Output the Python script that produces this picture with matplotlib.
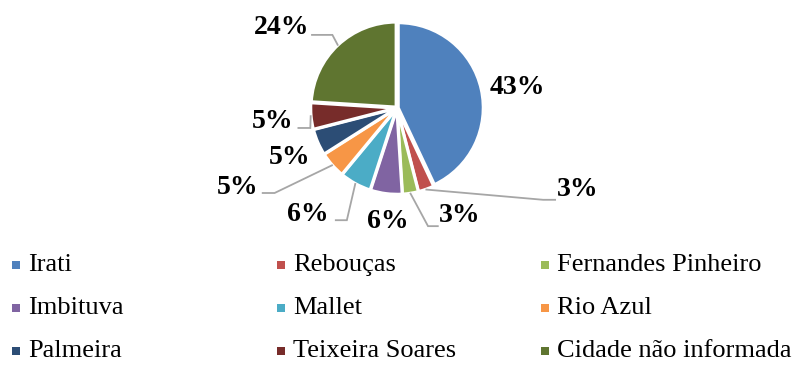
import matplotlib
matplotlib.use("Agg")
import matplotlib.pyplot as plt
from matplotlib.patches import Rectangle
import numpy as np

# Data
cities = ["Irati", "Rebouças", "Fernandes Pinheiro", "Imbituva", "Mallet",
          "Rio Azul", "Palmeira", "Teixeira Soares", "Cidade não informada"]
shares = [43, 3, 3, 6, 6, 5, 5, 5, 24]
colors = ["#4F81BD", "#C0504D", "#9BBB59", "#8064A2", "#4BACC6",
          "#F79646", "#2C4D75", "#772C2A", "#5F7530"]

# Label layout in axes data units (pie radius = 1): label centre and
# optional elbow of the leader line (None = no leader line)
label_pos = [(1.42, 0.24), (2.12, -0.96), (0.74, -1.27), (-0.11, -1.33),
             (-1.05, -1.25), (-1.88, -0.93), (-1.26, -0.58), (-1.46, -0.16),
             (-1.36, 0.95)]
elbows = [None, (1.72, -1.08), (0.365, -1.39), None, (-0.59, -1.32),
          (-1.44, -1.0), None, (-1.02, -0.235), (-0.76, 0.86)]
line_ends = [None, (1.86, -1.08), (0.48, -1.39), None, (-0.72, -1.32),
             (-1.58, -1.0), None, (-1.16, -0.235), (-1.0, 0.86)]

plt.rcParams["font.family"] = ["Liberation Serif", "DejaVu Serif"]
W, H = 795, 365
fig = plt.figure(figsize=(W / 100, H / 100), dpi=100)

cx, cy, r = 397, 108, 85
ax = fig.add_axes([(cx - r) / W, (H - cy - r) / H, 2 * r / W, 2 * r / H])

wedges, _ = ax.pie(shares, colors=colors, startangle=90, counterclock=False,
                   radius=1.0, explode=[0.015] * len(shares),
                   wedgeprops=dict(edgecolor="white", linewidth=2.2))
ax.set_xlim(-1, 1)
ax.set_ylim(-1, 1)
ax.set_aspect("equal")
ax.axis("off")

for i, w in enumerate(wedges):
    lx, ly = label_pos[i]
    ax.text(lx, ly, f"{shares[i]}%", ha="center", va="center",
            fontsize=20, fontweight="bold", color="black", clip_on=False)
    if elbows[i] is not None:
        mid = np.deg2rad((w.theta1 + w.theta2) / 2)
        sx, sy = 1.02 * np.cos(mid), 1.02 * np.sin(mid)
        ex, ey = elbows[i]
        tx, ty = line_ends[i]
        ax.plot([sx, ex, tx], [sy, ey, ty], color="#A6A6A6", lw=1.3,
                clip_on=False, solid_joinstyle="miter")

# Legend: three equal-width columns
col_x = [12, 277, 541]
row_y = [265, 308, 351]
for i, name in enumerate(cities):
    x = col_x[i % 3]
    y = row_y[i // 3]
    fig.add_artist(Rectangle((x / W, (H - y - 4) / H), 8 / W, 8 / H,
                             transform=fig.transFigure, facecolor=colors[i],
                             edgecolor="none"))
    fig.text((x + 16) / W, (H - y) / H, name, ha="left", va="center",
             fontsize=19, color="black")

fig.savefig("out.png", dpi=100, facecolor="white")
